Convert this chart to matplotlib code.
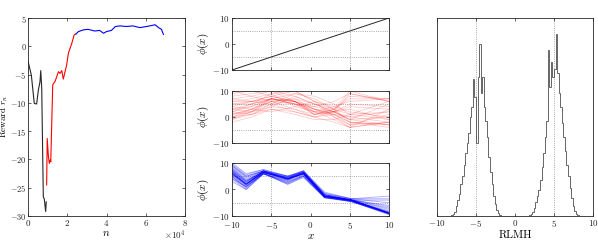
import matplotlib

matplotlib.use("Agg")
import matplotlib.pyplot as plt
import numpy as np

plt.rcParams["font.family"] = "serif"
plt.rcParams["font.serif"] = ["cmr10", "DejaVu Serif"]
plt.rcParams["mathtext.fontset"] = "cm"
plt.rcParams["axes.unicode_minus"] = False
plt.rcParams["axes.formatter.use_mathtext"] = True
plt.rcParams["font.size"] = 7

# --- reward trace (n in units of 1e4, r_n), three stages ---
n_black = [0, 0.17, 0.32, 0.44, 0.53, 0.61, 0.65, 0.70, 0.78, 0.83, 0.90, 0.93]
r_black = [-2.6, -5.1, -10.1, -10.2, -7.7, -6.3, -4.3, -7.5, -26.6, -27.0, -29.2, -27.5]
n_red = [0.95, 0.98, 1.04, 1.09, 1.14, 1.16, 1.26, 1.38, 1.55, 1.63,
         1.72, 1.80, 1.90, 1.97, 2.06, 2.23, 2.35, 2.45]
r_red = [-24.5, -16.3, -19.5, -20.7, -20.1, -20.4, -6.8, -6.2, -4.5, -4.8,
         -4.3, -5.8, -4.3, -3.3, -1.2, 0.5, 2.0, 2.2]
n_blue = [2.45, 2.57, 2.82, 3.06, 3.40, 3.65, 3.85, 4.00, 4.25, 4.45,
          4.70, 5.00, 5.35, 5.70, 6.05, 6.48, 6.65, 6.80, 6.90]
r_blue = [2.2, 2.6, 2.9, 3.0, 2.7, 2.8, 2.3, 2.6, 2.8, 3.5,
          3.6, 3.5, 3.6, 3.3, 3.5, 3.8, 3.3, 3.0, 2.1]

# --- phi(x) samples ---
x_prior = [-10, 10]
phi_prior = [-10, 10]

x_red = [-10, -7.5, -5, -2, 0.5, 3, 5, 10]
phi_red = [
    [1, 3, 7, 6, 1, 2, 9, 6],
    [2, 4, 7, 5, 3, 2, 0, -2],
    [8, 9, 10, 6, 4, 2, -1, 5],
    [-1, 2, 6, 7, 5, 3, 8, 7],
    [5, 6, 8, 10, 6, 0, -3, -2],
    [0, 1, 4, 3, 1, 3, 10, 6],
    [10, 8, 6, 3, 0, -2, -4, 3],
    [3, 5, 7, 9, 8, 5, 1, -1],
    [-2, 0, 3, 2, 0, 1, -2, -3],
    [6, 7, 9, 4, 2, 4, 6, 7],
    [1, 2, 5, 6, 2, 1, -3, 1],
    [4, 3, 2, 4, 6, 4, 2, 0],
    [7, 8, 10, 8, 5, 2, -1, -3],
    [0, 3, 6, 5, 4, 6, 9, 6],
    [2, 1, 3, 1, -1, -1, -4, -2],
    [9, 10, 8, 6, 3, 1, 0, 2],
    [3, 4, 7, 5, 1, 2, 5, 4],
    [-1, 1, 5, 9, 7, 3, -2, -3],
    [5, 5, 7, 6, 2, -1, 1, 6],
    [1, 3, 6, 7, 3, 0, -4, -2],
    [6, 6, 5, 2, 0, 2, 3, -1],
    [2, 5, 9, 10, 6, 3, 1, 2],
    [4, 6, 8, 6, 1, 3, 7, 7],
    [0, 2, 7, 6, 3, 1, -2, -4],
    [7, 6, 7, 5, 2, 2, 4, 3],
    [3, 2, 4, 8, 5, 2, -1, 0],
]

x_blue = [-10, -8.2, -6, -2.9, -0.9, 1.8, 5.2, 10]
phi_blue = [
    [6, 2, 6.5, 4, 6, -2.5, -4, -9],
    [7, 3, 7, 4.5, 6.5, -2.5, -4.2, -8.5],
    [5, 1, 6.5, 3.5, 6, -3, -4, -9],
    [8, 4, 7, 5, 7, -2, -4, -7],
    [4, 0, 6, 2.5, 5.5, -2.5, -4.5, -9],
    [9, 5, 7, 4, 6.5, -1.5, -3.5, -5],
    [6.5, 2, 6.5, 4, 6, -2.5, -4, -8.8],
    [7.5, 3.5, 6.5, 4.5, 6, -2.8, -4.2, -8],
    [5.5, 1.5, 6, 3, 5, -3, -4.5, -9],
    [10, 6, 7.5, 5, 7, -1, -3.5, -2.5],
    [6, 2, 6.5, 4, 6, -2.5, -4, -9],
    [7, 2.5, 7, 3.5, 6.5, -2.5, -4, -8.7],
    [4.5, 1, 6, 2, 5, -3, -4.5, -9.2],
    [8.5, 4.5, 7, 5, 6.5, -2, -4, -6],
    [6, 2, 6.5, 4, 6, -2.5, -4, -8.9],
    [5, 0.5, 6, 3, 5.5, -3, -4.2, -9],
    [7, 3, 6.5, 4.5, 6.5, -2, -3.8, -7.5],
    [6.5, 2, 7, 4, 6, -2.5, -4, -9],
    [9, 5, 7, 4.5, 7, -2, -4, -4],
    [5.5, 1.5, 6, 3.5, 6, -2.8, -4.3, -9],
    [6, 2, 6.5, 4, 6, -2.5, -4, -8.8],
    [7.5, 3, 7, 4, 6.5, -2.5, -4, -8.5],
    [4, 1, 6, 2.5, 5, -3.2, -4.5, -9.3],
    [8, 3.5, 6.5, 4.5, 6.5, -2, -3.8, -6.5],
    [6, 2, 6.5, 4, 6, -2.5, -4, -9],
    [6.5, 2.5, 6.5, 4, 6.2, -2.5, -4.1, -8.9],
    [3, 0, 6, 2, 4.5, -3, -4.5, -9.5],
    [9.5, 5.5, 7.5, 5, 7, -1.5, -3.5, -3.5],
]

# --- RLMH histogram (bin width 0.2, relative counts) ---
hist_left_start = -8.2
hist_left = [0.005, 0.01, 0.02, 0.05, 0.08, 0.11, 0.16, 0.2, 0.26, 0.32, 0.37, 0.42,
             0.50, 0.55, 0.69, 0.60, 0.37, 0.70, 0.87, 0.62, 0.70, 0.55, 0.48, 0.40,
             0.30, 0.22, 0.16, 0.10, 0.06, 0.03, 0.015, 0.005]
hist_right_start = 1.8
hist_right = [0.005, 0.01, 0.02, 0.04, 0.07, 0.1, 0.13, 0.18, 0.25, 0.32, 0.40,
              0.48, 0.84, 0.65, 0.78, 0.70, 0.74, 0.92, 0.72, 0.62, 0.55, 0.47,
              0.40, 0.33, 0.26, 0.2, 0.14, 0.09, 0.05, 0.025, 0.01, 0.005, 0.0]
hist_step = 0.2


def _style(ax):
    ax.tick_params(direction="in", top=True, right=True, length=2.5, width=0.5,
                   colors="0.15", labelsize=6.5, pad=1.5)
    for s in ax.spines.values():
        s.set_linewidth(0.6)
        s.set_color("0.15")


def _grid(ax):
    for v in (-5, 5):
        ax.axvline(v, color="0.55", ls=":", lw=0.6, zorder=0)
        ax.axhline(v, color="0.55", ls=":", lw=0.6, zorder=0)


fig = plt.figure(figsize=(5.98, 2.43), dpi=100)
W, H = 598, 243


def _axes(x0, y0, x1, y1):
    return fig.add_axes([x0 / W, 1 - y1 / H, (x1 - x0) / W, (y1 - y0) / H])


# Left: reward trace
ax = _axes(28, 18, 185, 216)
ax.plot(n_black, r_black, color="0.15", lw=0.8)
ax.plot(n_red, r_red, color="red", lw=0.8)
ax.plot(n_blue, r_blue, color="blue", lw=0.8)
ax.set_xlim(0, 8)
ax.set_ylim(-30, 5)
ax.set_yticks(np.arange(-30, 6, 5))
ax.set_xticks(np.arange(0, 9, 2))
ax.set_xlabel("$n$", fontsize=8, labelpad=0)
ax.set_ylabel("Reward $r_n$", fontsize=6.5)
ax.yaxis.set_label_coords(-0.112, 0.5)
ax.text(0.936, -0.096, r"$\times10^4$", transform=ax.transAxes, ha="center",
        va="center", fontsize=6.5, color="0.15")
_style(ax)
ax.tick_params(axis="y", pad=1, labelsize=6)

# Middle: phi(x) panels
mid = [(18, 70), (91, 143), (163, 216)]
for i, (y0, y1) in enumerate(mid):
    ax = _axes(232, y0, 389, y1)
    _grid(ax)
    if i == 0:
        ax.plot(x_prior, phi_prior, color="0.15", lw=0.7)
    elif i == 1:
        for row in phi_red:
            ax.plot(x_red, row, color="red", lw=0.6, alpha=0.2)
    else:
        for row in phi_blue:
            ax.plot(x_blue, row, color="blue", lw=0.7, alpha=0.3)
    ax.set_xlim(-10, 10)
    ax.set_ylim(-10, 10)
    ax.set_yticks([-10, 0, 10])
    ax.set_xticks(np.arange(-10, 11, 5))
    ax.set_ylabel(r"$\phi(x)$", fontsize=8, labelpad=1)
    _style(ax)
    if i < 2:
        ax.set_xticklabels([])
    else:
        ax.set_xlabel("$x$", fontsize=8, labelpad=0)
        ax.tick_params(axis="x", pad=3)

# Right: RLMH histogram
ax = _axes(437, 18, 593, 216)
for v in (-5, 5):
    ax.axvline(v, color="0.55", ls=":", lw=0.6, zorder=0)
for start, vals in ((hist_left_start, hist_left), (hist_right_start, hist_right)):
    edges = start + hist_step * np.arange(len(vals) + 1)
    ax.stairs(vals, edges, color="0.3", lw=0.6, baseline=0)
ax.set_xlim(-10, 10)
ax.set_ylim(0, 1)
ax.set_yticks([])
ax.set_xticks(np.arange(-10, 11, 5))
ax.set_xlabel("RLMH", fontsize=8, labelpad=1)
_style(ax)

fig.savefig("out.png", dpi=100)
